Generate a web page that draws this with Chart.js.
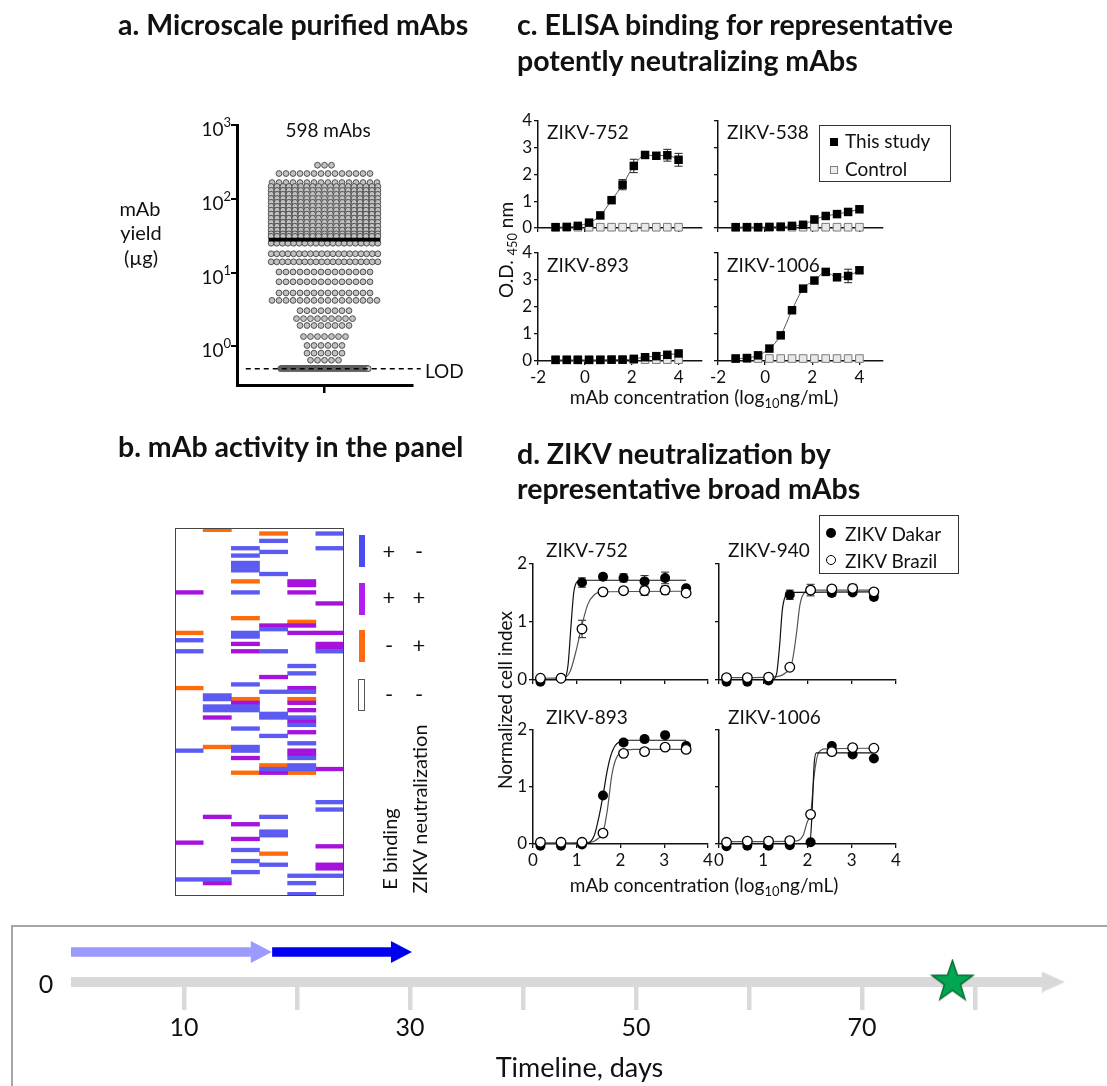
<!DOCTYPE html>
<html>
<head>
<meta charset="utf-8">
<title>ZIKV mAb panel</title>
<script src="https://cdn.jsdelivr.net/npm/chart.js@4.4.1/dist/chart.umd.min.js"></script>
<style>
  body { margin: 0; background: #fff; }
  #page { position: relative; width: 1107px; height: 1086px; overflow: hidden; font-family: Lato, "Open Sans", sans-serif; color: #111; }
  #page canvas { position: absolute; left: 0; top: 0; z-index: 1; }
  .txt { position: absolute; white-space: nowrap; line-height: 1; z-index: 2; }
  .vc { transform: translateY(-50%); }
  .c { transform: translate(-50%, -50%); }
  .rot { transform: translate(-50%, -50%) rotate(-90deg); }
  .head { font-weight: 700; font-size: 28.5px; }
  .s19 { font-size: 19px; }
  .s20 { font-size: 20px; }
  .s22 { font-size: 22px; }
  .s25 { font-size: 25px; }
  .sub { font-size: 0.68em; position: relative; top: 0.32em; }
  .legend { position: absolute; border: 1px solid #333; background: #fff; z-index: 0; }
  .swatch { position: absolute; width: 6px; height: 32px; z-index: 2; }
  .mk { position: absolute; z-index: 2; box-sizing: border-box; }
  .tlbox { position: absolute; left: 11px; top: 925px; width: 1200px; height: 300px; border: 2px solid #a6a6a6; z-index: 0; }
</style>
</head>
<body>
<div id="page">
  <!-- panel titles -->
  <div class="txt head vc" style="left:118px; top:24px">a. Microscale purified mAbs</div>
  <div class="txt head vc" style="left:517px; top:24px">c. ELISA binding for representative</div>
  <div class="txt head vc" style="left:517px; top:60px">potently neutralizing mAbs</div>
  <div class="txt head vc" style="left:118px; top:446px">b. mAb activity in the panel</div>
  <div class="txt head vc" style="left:517px; top:453px">d. ZIKV neutralization by</div>
  <div class="txt head vc" style="left:517px; top:488px">representative broad mAbs</div>

  <!-- panel a -->
  <div class="txt s19 c" style="left:328px; top:129px">598 mAbs</div>
  <div class="txt s20 c" style="left:140px; top:208px">mAb</div>
  <div class="txt s20 c" style="left:141px; top:232px">yield</div>
  <div class="txt s20 c" style="left:141px; top:257px">(µg)</div>
  <div class="txt s19 vc" style="left:425px; top:370px">LOD</div>

  <!-- panel b legend -->
  <div class="swatch" style="left:359px; top:535px; background:#4b4bf2"></div>
  <div class="swatch" style="left:359px; top:583px; background:#b21ef0"></div>
  <div class="swatch" style="left:359px; top:630px; background:#ff6a10"></div>
  <div class="swatch" style="left:358px; top:679px; width:7px; border:1px solid #555; box-sizing:border-box; background:#fff"></div>
  <div class="txt s22 c" style="left:389px; top:551px">+</div>
  <div class="txt s22 c" style="left:419px; top:551px">-</div>
  <div class="txt s22 c" style="left:389px; top:597px">+</div>
  <div class="txt s22 c" style="left:419px; top:597px">+</div>
  <div class="txt s22 c" style="left:389px; top:645px">-</div>
  <div class="txt s22 c" style="left:419px; top:645px">+</div>
  <div class="txt s22 c" style="left:389px; top:694px">-</div>
  <div class="txt s22 c" style="left:419px; top:694px">-</div>
  <div class="txt s20 rot" style="left:389px; top:849px">E binding</div>
  <div class="txt s20 rot" style="left:419px; top:809px">ZIKV neutralization</div>

  <!-- panel c labels -->
  <div class="txt s19 vc" style="left:547px; top:131px">ZIKV-752</div>
  <div class="txt s19 vc" style="left:727px; top:131px">ZIKV-538</div>
  <div class="txt s19 vc" style="left:547px; top:264px">ZIKV-893</div>
  <div class="txt s19 vc" style="left:727px; top:264px">ZIKV-1006</div>
  <div class="legend" style="left:819px; top:125px; width:130px; height:55px"></div>
  <div class="mk" style="left:830px; top:138px; width:8px; height:8px; background:#000"></div>
  <div class="mk" style="left:830px; top:166px; width:8px; height:8px; border:1px solid #7f7f7f; background:#eee"></div>
  <div class="txt s19 vc" style="left:845px; top:140px">This study</div>
  <div class="txt s19 vc" style="left:845px; top:168px">Control</div>
  <div class="txt s19 rot" style="left:505px; top:250px">O.D. <span class="sub">450</span> nm</div>
  <div class="txt s19 c" style="left:704px; top:396px">mAb concentration (log<span class="sub">10</span>ng/mL)</div>

  <!-- panel d labels -->
  <div class="txt s19 vc" style="left:546px; top:549px">ZIKV-752</div>
  <div class="txt s19 vc" style="left:728px; top:549px">ZIKV-940</div>
  <div class="txt s19 vc" style="left:546px; top:716px">ZIKV-893</div>
  <div class="txt s19 vc" style="left:728px; top:716px">ZIKV-1006</div>
  <div class="legend" style="left:819px; top:515px; width:138px; height:57px"></div>
  <div class="mk" style="left:826px; top:528px; width:10px; height:10px; border-radius:50%; background:#000"></div>
  <div class="mk" style="left:826px; top:555px; width:10px; height:10px; border-radius:50%; border:1.2px solid #000; background:#fff"></div>
  <div class="txt s19 vc" style="left:845px; top:533px">ZIKV Dakar</div>
  <div class="txt s19 vc" style="left:845px; top:560px">ZIKV Brazil</div>
  <div class="txt s19 rot" style="left:504px; top:700px">Normalized cell index</div>
  <div class="txt s19 c" style="left:704px; top:884px">mAb concentration (log<span class="sub">10</span>ng/mL)</div>

  <!-- timeline -->
  <div class="tlbox"></div>
  <div class="txt s25 c" style="left:46px; top:983px">0</div>
</div>

<script>
const W = 1107, H = 1086;
const FONT = 'Lato, "Open Sans", sans-serif';

// ---- a: microscale yields (µg), one row of the swarm per level ----
const yieldLevels = [285, 220, 166,
  147, 130, 115, 101, 89.5, 79, 70, 62, 54.5, 48, 42.5, 37.6, 33.5, 31,
  25, 18, 14, 10.2, 7.5, 5.3, 4.2, 3.05, 2.38, 1.92, 1.36, 1.03, 0.81, 0.65, 0.5];
const yieldCounts = [3, 14, 16,
  19, 19, 19, 19, 19, 19, 19, 19, 19, 19, 19, 19, 19, 19,
  20, 20, 20, 14, 14, 14, 16, 8, 9, 8, 7, 6, 6, 5, 132];
const yieldTicks = [1, 10, 100, 1000];
const LOD = 0.5;

// ---- b: activity map, rows (0 = top) per column ----
const heatCols = ['1', '2', '3', '4', '5', '6'];
const heatRows = 100;
const bindOnly = [
  [30, 33, 60, 95],
  [45, 46, 48, 49, 95],
  [5, 7, 9, 10, 11, 17, 28, 29, 42, 48, 49, 54, 59, 60, 87, 90, 93],
  [3, 6, 12, 27, 33, 44, 50, 51, 56, 65, 78, 82, 83, 91],
  [37, 39, 44, 51, 53, 58, 62, 64, 65, 94, 96, 99],
  [1, 5, 33, 74, 76, 94]
];
const bindNeut = [
  [17, 85],
  [51, 78, 96],
  [31, 33, 47, 62, 80, 84],
  [26, 40, 66],
  [14, 15, 17, 26, 28, 43, 47, 49, 52, 55, 60, 61],
  [20, 28, 31, 32, 65, 86, 91, 92]
];
const neutOnly = [
  [28, 43],
  [0, 59],
  [14, 24, 46, 66],
  [1, 64, 88],
  [25, 46, 66],
  []
];

// ---- c: ELISA, log10 ng/mL vs OD450 ----
const elisaX = [-1.25, -0.77, -0.30, 0.18, 0.66, 1.14, 1.61, 2.09, 2.57, 3.05, 3.52, 4.00];
const od752 = [0.03, 0.04, 0.08, 0.20, 0.47, 1.04, 1.62, 2.32, 2.73, 2.70, 2.72, 2.55];
const od752Err = [0, 0, 0, 0, 0, 0, 0.19, 0.25, 0, 0, 0.22, 0.24];
const od538 = [0.03, 0.03, 0.03, 0.04, 0.05, 0.08, 0.12, 0.32, 0.45, 0.52, 0.60, 0.70];
const od538Err = [0, 0, 0, 0, 0, 0, 0, 0, 0, 0, 0, 0];
const od893 = [0.04, 0.04, 0.04, 0.04, 0.04, 0.05, 0.05, 0.08, 0.14, 0.18, 0.23, 0.28];
const od893Err = [0, 0, 0, 0, 0, 0, 0, 0, 0, 0, 0.05, 0.06];
const od1006 = [0.09, 0.11, 0.21, 0.46, 0.95, 1.88, 2.68, 2.98, 3.30, 3.10, 3.15, 3.36];
const od1006Err = [0, 0, 0, 0, 0, 0, 0, 0, 0, 0, 0.25, 0.1];
const odCtl752 = [0.03, 0.03, 0.03, 0.03, 0.03, 0.03, 0.03, 0.03, 0.03, 0.03, 0.03, 0.03];
const odCtl538 = [0.03, 0.03, 0.03, 0.03, 0.03, 0.03, 0.03, 0.03, 0.03, 0.03, 0.03, 0.03];
const odCtl893 = [0.05, 0.05, 0.05, 0.05, 0.05, 0.05, 0.05, 0.05, 0.05, 0.05, 0.05, 0.05];
const odCtl1006 = [0.09, 0.09, 0.09, 0.09, 0.09, 0.09, 0.09, 0.09, 0.09, 0.09, 0.09, 0.09];

// ---- d: neutralization, log10 ng/mL vs normalized cell index ----
const neutX = [0.17, 0.64, 1.12, 1.60, 2.07, 2.55, 3.02, 3.50];
const dakar752 = [-0.03, 0.03, 1.68, 1.78, 1.76, 1.70, 1.76, 1.58];
const dakar752Err = [0, 0, 0.08, 0.05, 0.07, 0.10, 0.10, 0.05];
const brazil752 = [0.03, 0.03, 0.88, 1.52, 1.54, 1.54, 1.55, 1.50];
const brazil752Err = [0, 0, 0.15, 0, 0, 0.08, 0.07, 0];
const dakar940 = [-0.03, -0.03, -0.01, 1.47, 1.55, 1.50, 1.51, 1.43];
const dakar940Err = [0, 0, 0, 0.08, 0.05, 0.05, 0, 0.05];
const brazil940 = [0.04, 0.04, 0.05, 0.22, 1.55, 1.57, 1.58, 1.52];
const brazil940Err = [0, 0, 0, 0, 0.10, 0, 0.07, 0.05];
const dakar893 = [-0.03, -0.03, -0.01, 0.85, 1.78, 1.84, 1.91, 1.72];
const dakar893Err = [0, 0, 0, 0, 0.05, 0.05, 0, 0];
const brazil893 = [0.03, 0.03, 0.03, 0.19, 1.59, 1.62, 1.70, 1.66];
const brazil893Err = [0, 0, 0, 0, 0, 0, 0, 0];
const dakar1006 = [-0.04, -0.03, -0.03, -0.02, 0.03, 1.72, 1.57, 1.50];
const brazil1006 = [0.03, 0.05, 0.05, 0.06, 0.52, 1.62, 1.69, 1.68];
const noErr = [0, 0, 0, 0, 0, 0, 0, 0];

// fitted dose-response curves, [log10 conc, index]
const fit752Dakar = [[0.1, 0.0], [0.7, 0.01], [0.8, 0.25], [0.87, 0.95], [0.93, 1.5], [1.02, 1.7], [1.2, 1.72], [3.5, 1.72]];
const fit752Brazil = [[0.1, 0.03], [0.7, 0.04], [0.85, 0.15], [1.0, 0.55], [1.12, 0.95], [1.25, 1.3], [1.4, 1.47], [1.6, 1.52], [3.5, 1.53]];
const fit940Dakar = [[0.1, -0.01], [1.2, 0.0], [1.3, 0.1], [1.37, 0.6], [1.43, 1.2], [1.5, 1.45], [1.6, 1.51], [3.5, 1.52]];
const fit940Brazil = [[0.1, 0.04], [1.2, 0.05], [1.5, 0.12], [1.65, 0.3], [1.75, 0.8], [1.83, 1.3], [1.95, 1.52], [2.1, 1.55], [3.5, 1.55]];
const fit893Dakar = [[0.1, -0.02], [1.2, 0.0], [1.4, 0.15], [1.5, 0.45], [1.6, 0.85], [1.7, 1.3], [1.8, 1.6], [1.95, 1.78], [2.2, 1.82], [3.5, 1.82]];
const fit893Brazil = [[0.1, 0.02], [1.3, 0.03], [1.5, 0.1], [1.6, 0.2], [1.7, 0.6], [1.8, 1.2], [1.9, 1.5], [2.05, 1.63], [2.3, 1.66], [3.5, 1.66]];
const fit1006Dakar = [[0.1, -0.02], [2.05, -0.01], [2.1, 0.5], [2.15, 1.4], [2.2, 1.6], [3.5, 1.6]];
const fit1006Brazil = [[0.1, 0.04], [1.7, 0.05], [1.9, 0.15], [2.0, 0.4], [2.07, 0.52], [2.15, 1.2], [2.25, 1.6], [2.4, 1.67], [3.5, 1.68]];

// ---- timeline (days) ----
const dayTicks = [10, 20, 30, 40, 50, 60, 70, 80];
const dayLabels = [10, 30, 50, 70];
const axisEnd = 86;
const arrowFrom = [0, 17.8];
const arrowTo = [16, 28.4];
const starDay = 78;

const BLUE = '#5b5bf2', PURPLE = '#a412dc', ORANGE = '#ff6a0a';

Chart.defaults.font.family = FONT;
Chart.defaults.color = '#111';

function newCanvas(h) {
  const c = document.createElement('canvas');
  c.width = W;
  c.height = h || H;
  document.getElementById('page').appendChild(c);
  return c;
}

// padding that puts the plot area on box = [left, top, right, bottom]
function frame(box, yW, xH) {
  return { left: box[0] - yW, top: box[1], right: W - box[2], bottom: H - box[3] - xH };
}

function base(opts) {
  return Object.assign({
    responsive: false,
    animation: false,
    devicePixelRatio: 1,
    events: [],
    plugins: { legend: { display: false }, tooltip: { enabled: false } }
  }, opts);
}

const pairs = (xs, ys) => xs.map((x, i) => ({ x, y: ys[i] }));
const pts = arr => arr.map(([x, y]) => ({ x, y }));

function spreadRows(levels, counts) {
  const out = [];
  levels.forEach((v, i) => {
    const n = counts[i];
    const half = v === LOD ? 0.5 : 0.61;
    const step = n > 1 ? Math.min(0.08, (2 * half) / (n - 1)) : 0;
    for (let k = 0; k < n; k++) out.push({ x: (k - (n - 1) / 2) * step, y: v });
  });
  return out;
}

function median(values) {
  const s = values.slice().sort((a, b) => a - b);
  const m = s.length / 2;
  return s.length % 2 ? s[Math.floor(m)] : (s[m - 1] + s[m]) / 2;
}

const errorBars = {
  id: 'errorBars',
  beforeDatasetsDraw(chart) {
    const { ctx } = chart;
    const ys = chart.scales.y;
    chart.data.datasets.forEach((ds, i) => {
      if (!ds.errs) return;
      const meta = chart.getDatasetMeta(i);
      ctx.save();
      ctx.strokeStyle = '#222';
      ctx.lineWidth = 1;
      meta.data.forEach((pt, j) => {
        const e = ds.errs[j];
        if (!e) return;
        const v = ds.data[j].y;
        const top = ys.getPixelForValue(v + e), bot = ys.getPixelForValue(v - e);
        ctx.beginPath();
        ctx.moveTo(pt.x, top); ctx.lineTo(pt.x, bot);
        ctx.moveTo(pt.x - 4, top); ctx.lineTo(pt.x + 4, top);
        ctx.moveTo(pt.x - 4, bot); ctx.lineTo(pt.x + 4, bot);
        ctx.stroke();
      });
      ctx.restore();
    });
  }
};

const powerTicks = {
  id: 'powerTicks',
  afterDraw(chart) {
    const { ctx } = chart;
    const y = chart.scales.y;
    const right = y.right - 6;
    ctx.save();
    ctx.fillStyle = '#111';
    ctx.textAlign = 'right';
    yieldTicks.forEach(v => {
      const py = y.getPixelForValue(v);
      const exp = String(Math.round(Math.log10(v)));
      ctx.font = '13px ' + FONT;
      ctx.fillText(exp, right, py + 2);
      const ew = ctx.measureText(exp).width;
      ctx.font = '19px ' + FONT;
      ctx.fillText('10', right - ew, py + 11);
    });
    ctx.restore();
  }
};

const outline = {
  id: 'outline',
  afterDraw(chart) {
    const { ctx, chartArea: a } = chart;
    ctx.save();
    ctx.strokeStyle = '#444';
    ctx.lineWidth = 1;
    ctx.strokeRect(a.left + 0.5, a.top + 0.5, a.width - 1, a.height - 1);
    ctx.restore();
  }
};

// ---------- a. yields ----------
// (first dataset is painted last, so the lines go first)
const yieldPts = spreadRows(yieldLevels, yieldCounts);
const medianYield = median(yieldPts.map(p => p.y));

new Chart(newCanvas(), {
  type: 'scatter',
  data: {
    datasets: [
      { data: [{ x: -0.64, y: medianYield }, { x: 0.64, y: medianYield }], showLine: true, borderColor: '#000', borderWidth: 3.8, pointRadius: 0 },
      { data: [{ x: -0.9, y: LOD }, { x: 1.1, y: LOD }], showLine: true, borderColor: '#000', borderWidth: 1.5, borderDash: [5, 4], pointRadius: 0, clip: false },
      { data: yieldPts, pointRadius: 2.9, pointBorderWidth: 1, pointBackgroundColor: '#c2c2c2', pointBorderColor: '#505050', clip: false }
    ]
  },
  options: base({
    layout: { padding: frame([237, 125, 412, 385], 60, 12) },
    scales: {
      x: {
        type: 'linear', min: -1, max: 1,
        afterBuildTicks: s => { s.ticks = [{ value: 0 }]; },
        afterFit: s => { s.height = 12; },
        ticks: { display: false },
        grid: { drawOnChartArea: false, tickLength: 8, lineWidth: 2.5, color: '#000' },
        border: { width: 3, color: '#000' }
      },
      y: {
        type: 'logarithmic', min: Math.pow(10, -0.5), max: 1000,
        afterBuildTicks: s => { s.ticks = yieldTicks.map(v => ({ value: v })); },
        afterFit: s => { s.width = 60; },
        ticks: { display: false },
        grid: { drawOnChartArea: false, tickLength: 6, lineWidth: 2, color: '#000' },
        border: { width: 3, color: '#000' }
      }
    }
  }),
  plugins: [powerTicks]
});

// ---------- b. activity map ----------
function heatSet(rowsByCol, color) {
  const data = [];
  rowsByCol.forEach((rows, c) => rows.forEach(r => data.push({ x: heatCols[c], y: [r, r + 1] })));
  return { data, backgroundColor: color, borderWidth: 0, grouped: false, barPercentage: 1, categoryPercentage: 1 };
}

new Chart(newCanvas(), {
  type: 'bar',
  data: { labels: heatCols, datasets: [heatSet(bindOnly, BLUE), heatSet(bindNeut, PURPLE), heatSet(neutOnly, ORANGE)] },
  options: base({
    layout: { padding: frame([175, 528, 344, 896], 0, 0) },
    scales: {
      x: { type: 'category', display: false, offset: true },
      y: { type: 'linear', display: false, min: 0, max: heatRows, reverse: true }
    }
  }),
  plugins: [outline]
});

// ---------- small dose-response plots ----------
function axis(min, max, ticks, labelled, size) {
  return {
    type: 'linear', min, max,
    afterBuildTicks: s => { s.ticks = ticks.map(v => ({ value: v })); },
    afterFit: s => { if (s.isHorizontal()) s.height = size; else s.width = size; },
    ticks: { display: labelled, padding: 2, color: '#111', font: { size: 17 }, maxRotation: 0, autoSkip: false },
    grid: { drawOnChartArea: false, tickLength: 4, lineWidth: 1.3, color: '#111' },
    border: { display: true, width: 1.5, color: '#111' }
  };
}

function smallPlot(box, xr, xTicks, yr, yTicks, showX, showY, datasets) {
  const yW = showY ? 24 : 0, xH = showX ? 26 : 6;
  new Chart(newCanvas(), {
    type: 'scatter',
    data: { datasets },
    options: base({
      layout: { padding: frame(box, yW, xH) },
      scales: {
        x: axis(xr[0], xr[1], xTicks, showX, xH),
        y: axis(yr[0], yr[1], yTicks, showY, yW)
      }
    }),
    plugins: [errorBars]
  });
}

// ---------- c. ELISA ----------
function elisaSets(od, err, ctl) {
  return [
    { data: pairs(elisaX, od), errs: err, showLine: true, borderColor: '#555', borderWidth: 1, cubicInterpolationMode: 'monotone',
      pointStyle: 'rect', pointRadius: 6, pointBorderWidth: 0, pointBackgroundColor: '#000', clip: false },
    { data: pairs(elisaX, ctl), pointStyle: 'rect', pointRadius: 5.4, pointBorderWidth: 1, pointBackgroundColor: '#e8e8e8', pointBorderColor: '#7a7a7a', clip: false }
  ];
}
const elisaXr = [-2, 5], elisaXt = [-2, 0, 2, 4];
const elisaYr = [0, 4], elisaYt = [0, 1, 2, 3, 4];
smallPlot([538, 121, 702, 228], elisaXr, elisaXt, elisaYr, elisaYt, false, true, elisaSets(od752, od752Err, odCtl752));
smallPlot([718, 121, 883, 228], elisaXr, elisaXt, elisaYr, elisaYt, false, false, elisaSets(od538, od538Err, odCtl538));
smallPlot([538, 253, 702, 361], elisaXr, elisaXt, elisaYr, elisaYt, true, true, elisaSets(od893, od893Err, odCtl893));
smallPlot([718, 253, 883, 361], elisaXr, elisaXt, elisaYr, elisaYt, true, false, elisaSets(od1006, od1006Err, odCtl1006));

// ---------- d. neutralization ----------
function neutSets(dakar, dErr, brazil, bErr, fitD, fitB) {
  const curve = (arr, color) => ({ data: pts(arr), showLine: true, borderColor: color, borderWidth: 1.2, pointRadius: 0, cubicInterpolationMode: 'monotone' });
  return [
    { data: pairs(neutX, brazil), errs: bErr, pointRadius: 4.8, pointBorderWidth: 1.3, pointBackgroundColor: '#fff', pointBorderColor: '#000', clip: false },
    { data: pairs(neutX, dakar), errs: dErr, pointRadius: 5, pointBorderWidth: 0, pointBackgroundColor: '#000', clip: false },
    curve(fitD, '#111'),
    curve(fitB, '#555')
  ];
}
const neutXr = [0, 4], neutXt = [0, 1, 2, 3, 4];
const neutYr = [0, 2], neutYt = [0, 1, 2];
smallPlot([533, 564, 708, 680], neutXr, neutXt, neutYr, neutYt, false, true, neutSets(dakar752, dakar752Err, brazil752, brazil752Err, fit752Dakar, fit752Brazil));
smallPlot([719, 564, 896, 680], neutXr, neutXt, neutYr, neutYt, false, false, neutSets(dakar940, dakar940Err, brazil940, brazil940Err, fit940Dakar, fit940Brazil));
smallPlot([533, 730, 708, 844], neutXr, neutXt, neutYr, neutYt, true, true, neutSets(dakar893, dakar893Err, brazil893, brazil893Err, fit893Dakar, fit893Brazil));
smallPlot([719, 730, 896, 844], neutXr, neutXt, neutYr, neutYt, true, false, neutSets(dakar1006, noErr, brazil1006, noErr, fit1006Dakar, fit1006Brazil));

// ---------- timeline ----------
function arrowHead(color, len, half) {
  const c = document.createElement('canvas');
  c.width = 2 * len;
  c.height = 2 * half;
  const g = c.getContext('2d');
  g.fillStyle = color;
  g.beginPath();
  g.moveTo(len - 1, 0);
  g.lineTo(2 * len, half);
  g.lineTo(len - 1, 2 * half);
  g.closePath();
  g.fill();
  return c;
}

function starMark(outer, inner, fill, stroke) {
  const size = Math.ceil(2 * outer + 4);
  const c = document.createElement('canvas');
  c.width = size;
  c.height = size;
  const g = c.getContext('2d');
  const cx = size / 2, cy = size / 2;
  g.beginPath();
  for (let k = 0; k < 10; k++) {
    const r = k % 2 ? inner : outer;
    const a = -Math.PI / 2 + k * Math.PI / 5;
    g.lineTo(cx + r * Math.cos(a), cy + r * Math.sin(a));
  }
  g.closePath();
  g.fillStyle = fill;
  g.fill();
  g.strokeStyle = stroke;
  g.lineWidth = 1.5;
  g.stroke();
  return c;
}

// star on top, then the two stage arrows, then the day axis underneath
const arrowColors = ['#9b9bff', '#0000f0'];
const tlSets = [
  { data: [{ x: starDay, y: 0 }], pointRadius: 1, pointStyle: starMark(21.5, 8.5, '#00a651', '#0b6b35'), clip: false }
];
arrowFrom.forEach((d0, i) => {
  tlSets.push({ data: [{ x: d0, y: 0.5 }, { x: arrowTo[i], y: 0.5 }], showLine: true, borderColor: arrowColors[i], borderWidth: 9.5,
    pointRadius: [0, 1], pointStyle: [false, arrowHead(arrowColors[i], 20, 11)], clip: false });
});
tlSets.push({ data: [{ x: 0, y: 0 }, { x: axisEnd, y: 0 }], showLine: true, borderColor: '#d9d9d9', borderWidth: 10,
  pointRadius: [0, 1], pointStyle: [false, arrowHead('#d9d9d9', 22, 10.5)], clip: false });

const TL_H = 1120;
new Chart(newCanvas(TL_H), {
  type: 'scatter',
  data: { datasets: tlSets },
  options: base({
    layout: { padding: { left: 71, top: 922, right: W - (71 + 90 * 11.3), bottom: TL_H - 982 - 116 } },
    scales: {
      x: {
        type: 'linear', min: 0, max: 90,
        afterBuildTicks: s => { s.ticks = dayTicks.map(v => ({ value: v })); },
        afterFit: s => { s.height = 116; },
        ticks: { callback: v => (dayLabels.includes(v) ? String(v) : ''), padding: 3, font: { size: 25 }, color: '#111', maxRotation: 0, autoSkip: false },
        grid: { drawOnChartArea: false, tickLength: 28, lineWidth: 4.5, color: '#d9d9d9' },
        border: { display: false },
        title: { display: true, text: 'Timeline, days', font: { size: 27 }, color: '#111', padding: { top: 0, bottom: 14 } }
      },
      y: { type: 'linear', display: false, min: 0, max: 1 }
    }
  })
});
</script>
</body>
</html>
